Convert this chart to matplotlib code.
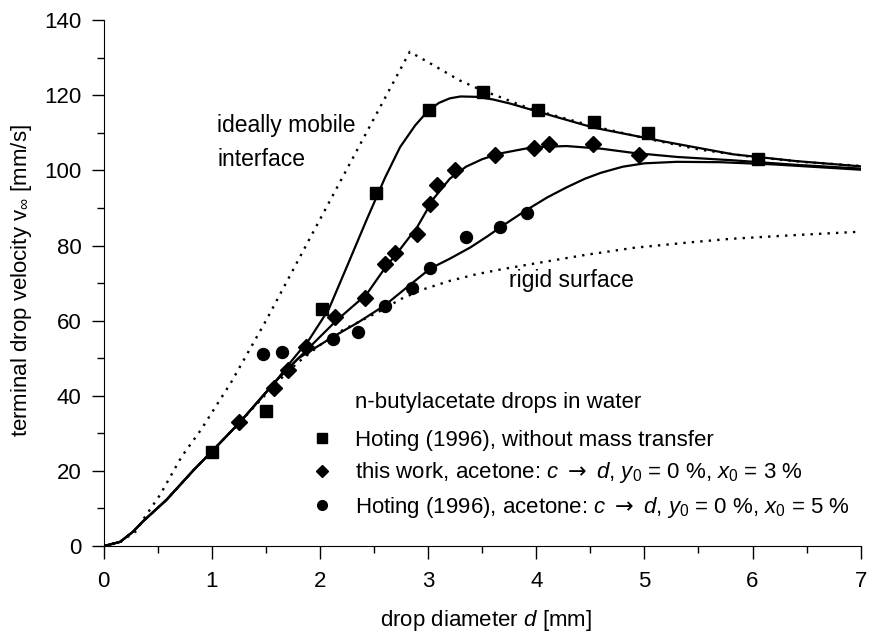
import matplotlib
matplotlib.use("Agg")
import matplotlib.pyplot as plt
from matplotlib.lines import Line2D

plt.rcParams['font.family'] = ['Liberation Sans', 'DejaVu Sans']
plt.rcParams['mathtext.fontset'] = 'custom'
plt.rcParams['mathtext.rm'] = 'Liberation Sans'
plt.rcParams['mathtext.it'] = 'Liberation Sans:italic'
plt.rcParams['mathtext.bf'] = 'DejaVu Sans'   # used only for the arrow glyph
plt.rcParams['mathtext.fallback'] = 'stixsans'

# measured points
sq_d = [1.0, 1.5, 2.02, 2.52, 3.01, 3.51, 4.02, 4.53, 5.03, 6.05]
sq_v = [25, 36, 63, 94, 116, 121, 116, 113, 110, 103]

dia_d = [1.25, 1.57, 1.7, 1.87, 2.14, 2.42, 2.6, 2.69, 2.9, 3.02, 3.08, 3.25, 3.62, 3.98, 4.12, 4.52, 4.95]
dia_v = [33, 42, 47, 53, 61, 66, 75, 78, 83, 91, 96, 100, 104, 106, 107, 107, 104]

cir_d = [1.47, 1.65, 2.12, 2.35, 2.6, 2.85, 3.02, 3.35, 3.66, 3.91]
cir_v = [51, 51.6, 55, 57, 64, 68.6, 74, 82.4, 85, 88.6]

# fitted curves
fit_sq_d = [0, 0.15, 0.27, 0.36, 0.58, 0.83, 1.01, 1.26, 1.6, 1.72, 1.9, 2.08, 2.25, 2.43, 2.6, 2.74, 2.88,
            3.0, 3.1, 3.2, 3.3, 3.45, 3.6, 3.76, 4.13, 4.53, 5.2, 5.82, 6.4, 7.0]
fit_sq_v = [0, 1.1, 3.8, 6.5, 12.3, 20.2, 25.5, 33, 44.2, 48.7, 55, 63, 74.5, 86.8, 98, 106.2, 112,
            115.9, 118, 119.2, 119.7, 119.6, 118.9, 117.8, 114.7, 111.4, 107.6, 104.3, 102.5, 101.1]

fit_dia_d = [0, 0.15, 0.27, 0.36, 0.58, 0.83, 1.01, 1.26, 1.6, 1.8, 2.15, 2.43, 2.6, 2.74, 2.9, 3.05, 3.2,
             3.35, 3.5, 3.66, 3.97, 4.28, 4.6, 4.89, 5.3, 5.82, 6.4, 7.0]
fit_dia_v = [0, 1.1, 3.8, 6.5, 12.3, 20.2, 25.5, 33, 44.2, 50, 60, 67, 74, 79, 85, 92.5, 97.8,
             101, 103, 104.5, 106.2, 106.5, 105.8, 104.7, 103.6, 102.7, 101.5, 100.5]

fit_cir_d = [0, 0.15, 0.27, 0.36, 0.58, 0.83, 1.01, 1.26, 1.6, 1.8, 2.12, 2.35, 2.6, 2.8, 3.02, 3.2, 3.39,
             3.55, 3.7, 3.9, 4.1, 4.28, 4.45, 4.6, 4.8, 5.0, 5.3, 5.7, 6.2, 7.0]
fit_cir_v = [0, 1.1, 3.8, 6.5, 12.3, 20.2, 25.5, 33, 44.2, 50, 55.7, 59.5, 64.1, 68.8, 73.9, 76.5, 79.5,
             82.5, 85.5, 89.3, 92.8, 95.5, 97.8, 99.4, 101, 101.9, 102.3, 102.2, 101.6, 100.2]

mobile_d = [0, 0.15, 0.3, 0.36, 0.52, 0.72, 0.9, 1.18, 1.5, 2.0, 2.4, 2.83, 3.05, 3.29, 3.5, 3.66, 3.82,
            3.97, 4.5, 5.0, 5.5, 6.0, 6.5, 7.0]
mobile_v = [0, 1, 4, 6.9, 13.6, 23.8, 31, 43.7, 60, 87, 108.5, 131.6, 128, 124, 121.3, 119.6, 117.8,
            116.2, 112, 108.6, 105.6, 103.6, 102.2, 101.2]

rigid_d = [0, 0.15, 0.27, 0.36, 0.58, 0.83, 1.01, 1.26, 1.6, 1.8, 2.0, 2.21, 2.55, 2.75, 2.95, 3.2, 3.45,
           3.7, 4.0, 4.45, 4.9, 5.4, 5.8, 6.4, 7.0]
rigid_v = [0, 1.1, 3.8, 6.5, 12.3, 20.2, 25.5, 33, 43.5, 49, 53.5, 57.5, 62.5, 65.8, 68.3, 70.6, 72.4,
           73.8, 75.3, 77.5, 79.4, 80.8, 81.8, 82.8, 83.7]

labels = ["Hoting (1996), without mass transfer",
          r"this work, acetone: $c$ $\mathbf{\rightarrow}$ $d$, $y_0$ = 0 %, $x_0$ = 3 %",
          r"Hoting (1996), acetone: $c$ $\mathbf{\rightarrow}$ $d$, $y_0$ = 0 %, $x_0$ = 5 %"]

fs = 16

fig = plt.figure(figsize=(8.72, 6.32), dpi=100)
ax = fig.add_axes([0.119, 0.136, 0.868, 0.832])

ax.plot(mobile_d, mobile_v, color='black', lw=1.7, ls=(0, (1, 2.6)))
ax.plot(rigid_d, rigid_v, color='black', lw=1.7, ls=(0, (1, 2.6)))
ax.plot(fit_sq_d, fit_sq_v, color='black', lw=1.6)
ax.plot(fit_dia_d, fit_dia_v, color='black', lw=1.6)
ax.plot(fit_cir_d, fit_cir_v, color='black', lw=1.6)

ax.plot(sq_d, sq_v, 's', color='black', ms=9.2, ls='none')
ax.plot(dia_d, dia_v, 'D', color='black', ms=8, ls='none')
ax.plot(cir_d, cir_v, 'o', color='black', ms=8.6, ls='none')

ax.text(1.05, 110.2, "ideally mobile", fontsize=16.5)
ax.text(1.05, 101.1, "interface", fontsize=16.5)
ax.text(3.75, 69, "rigid surface", fontsize=16.5)
ax.text(2.32, 36.7, "n-butylacetate drops in water", fontsize=fs)

handles = [Line2D([], [], marker='s', color='black', ls='none', ms=7),
           Line2D([], [], marker='D', color='black', ls='none', ms=6.2),
           Line2D([], [], marker='o', color='black', ls='none', ms=7)]
ax.legend(handles, labels, loc='upper left', bbox_to_anchor=(0.2735, 0.221), frameon=False,
          fontsize=fs, handlelength=1.0, handletextpad=1.0, labelspacing=0.43,
          borderpad=0, borderaxespad=0)

ax.set_xlim(0, 7)
ax.set_ylim(0, 140)
ax.set_xticks(range(0, 8))
ax.set_xticks([0.5, 1.5, 2.5, 3.5, 4.5, 5.5, 6.5], minor=True)
ax.set_yticks(range(0, 141, 20))
ax.set_yticks(range(10, 140, 20), minor=True)
ax.spines['top'].set_visible(False)
ax.spines['right'].set_visible(False)
ax.tick_params(which='major', direction='out', length=9, width=1, labelsize=fs)
ax.tick_params(which='minor', direction='out', length=5, width=1)
ax.tick_params(axis='x', which='major', pad=9)
ax.tick_params(axis='y', which='major', pad=7)

ax.set_xlabel("drop diameter $d$ [mm]", fontsize=fs)
ax.set_ylabel("terminal drop velocity v$_\\infty$ [mm/s]", fontsize=fs)
ax.xaxis.set_label_coords(0.505, -0.118)
ax.yaxis.set_label_coords(-0.092, 0.505)

fig.savefig("out.png", dpi=100)
